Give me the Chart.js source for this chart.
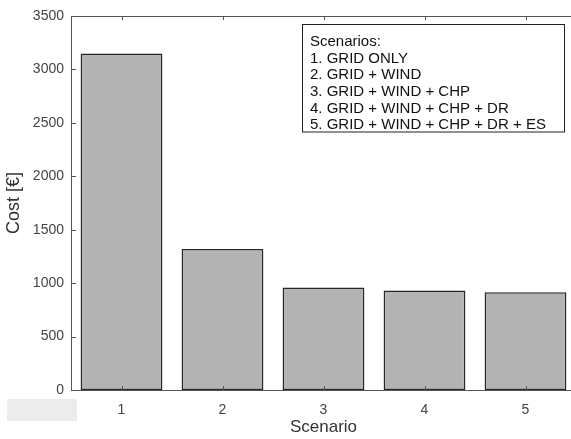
<!DOCTYPE html>
<html lang="en">
<head>
    <meta charset="UTF-8">
    <title>Cost per Scenario</title>
    <script src="https://cdn.jsdelivr.net/npm/chart.js"></script>
    <style>
        html, body {
            margin: 0;
            padding: 0;
            background: #fff;
            overflow: hidden;
        }
        .chart-box {
            position: relative;
            width: 576px;
            height: 439px;
        }
    </style>
</head>
<body>
    <div class="chart-box">
        <canvas id="costChart"></canvas>
    </div>

    <script>
        // Chart data
        const scenarios = ['1', '2', '3', '4', '5'];
        const costs = [3150, 1320, 960, 930, 915];
        const yTicks = [0, 500, 1000, 1500, 2000, 2500, 3000, 3500];
        const legendTitle = 'Scenarios:';
        const legendLines = [
            '1. GRID ONLY',
            '2. GRID + WIND',
            '3. GRID + WIND + CHP',
            '4. GRID + WIND + CHP + DR',
            '5. GRID + WIND + CHP + DR + ES'
        ];

        const fontFamily = '"Liberation Sans", Arial, sans-serif';
        const axisColor = '#555';

        // box around the axes, inward ticks, the scenario note
        const matlabAxes = {
            id: 'matlabAxes',
            beforeDraw(chart) {
                const ctx = chart.ctx;
                ctx.save();
                ctx.fillStyle = '#ececec';
                ctx.fillRect(7, 399, 70, 22);
                ctx.restore();
            },
            afterDraw(chart) {
                const ctx = chart.ctx;
                const area = chart.chartArea;
                const x = chart.scales.x;
                const y = chart.scales.y;
                ctx.save();
                ctx.strokeStyle = axisColor;
                ctx.lineWidth = 1;
                ctx.beginPath();
                ctx.moveTo(area.left + 0.5, area.top + 0.5);
                ctx.lineTo(area.right, area.top + 0.5);
                ctx.moveTo(area.left + 0.5, area.top);
                ctx.lineTo(area.left + 0.5, area.bottom + 0.5);
                ctx.lineTo(area.right, area.bottom + 0.5);
                ctx.moveTo(area.right - 0.5, area.top);
                ctx.lineTo(area.right - 0.5, area.bottom);
                yTicks.forEach(v => {
                    const py = Math.round(y.getPixelForValue(v)) + 0.5;
                    ctx.moveTo(area.left, py);
                    ctx.lineTo(area.left + 5, py);
                });
                scenarios.forEach((s, i) => {
                    const px = Math.round(x.getPixelForValue(i)) + 0.5;
                    ctx.moveTo(px, area.bottom);
                    ctx.lineTo(px, area.bottom - 4);
                    ctx.moveTo(px, area.top);
                    ctx.lineTo(px, area.top + 4);
                });
                ctx.stroke();

                // scenario note box
                const bx = 302, by = 24.5, bw = 262, bh = 107.5;
                ctx.fillStyle = '#fff';
                ctx.fillRect(bx, by, bw, bh);
                ctx.strokeStyle = '#222';
                ctx.strokeRect(bx + 0.5, by, bw, bh);
                ctx.fillStyle = '#111';
                ctx.font = '15px ' + fontFamily;
                ctx.textBaseline = 'middle';
                ctx.textAlign = 'left';
                [legendTitle].concat(legendLines).forEach((line, i) => {
                    ctx.fillText(line, bx + 8, by + 17.5 + i * 16.6);
                });
                ctx.restore();
            }
        };

        const ctx = document.getElementById('costChart').getContext('2d');
        new Chart(ctx, {
            type: 'bar',
            data: {
                labels: scenarios,
                datasets: [{
                    label: 'Cost',
                    data: costs,
                    backgroundColor: '#b3b3b3',
                    borderColor: '#262626',
                    borderWidth: 1.5,
                    borderSkipped: false,
                    barPercentage: 0.81,
                    categoryPercentage: 1
                }]
            },
            options: {
                responsive: true,
                maintainAspectRatio: false,
                animation: false,
                layout: {
                    padding: { top: 16, right: 0, left: 0, bottom: 0 }
                },
                plugins: {
                    legend: { display: false },
                    tooltip: { enabled: false }
                },
                scales: {
                    x: {
                        grid: { display: false, drawTicks: false },
                        border: { display: false },
                        ticks: {
                            color: '#444',
                            padding: 12,
                            font: { family: fontFamily, size: 14 }
                        },
                        title: {
                            display: true,
                            text: 'Scenario',
                            color: '#333',
                            padding: { top: 0, bottom: 1 },
                            font: { family: fontFamily, size: 17 }
                        },
                        afterFit(scale) {
                            scale.height = 49;
                        }
                    },
                    y: {
                        min: 0,
                        max: 3500,
                        grid: { display: false, drawTicks: false },
                        border: { display: false },
                        afterBuildTicks(scale) {
                            scale.ticks = yTicks.map(v => ({ value: v }));
                        },
                        ticks: {
                            color: '#444',
                            padding: 7,
                            font: { family: fontFamily, size: 14 },
                            callback: value => String(value)
                        },
                        title: {
                            display: true,
                            text: 'Cost [€]',
                            color: '#333',
                            padding: { top: 3, bottom: 0 },
                            font: { family: fontFamily, size: 18 }
                        },
                        afterFit(scale) {
                            scale.width = 71;
                        }
                    }
                }
            },
            plugins: [matlabAxes]
        });
    </script>
</body>
</html>
